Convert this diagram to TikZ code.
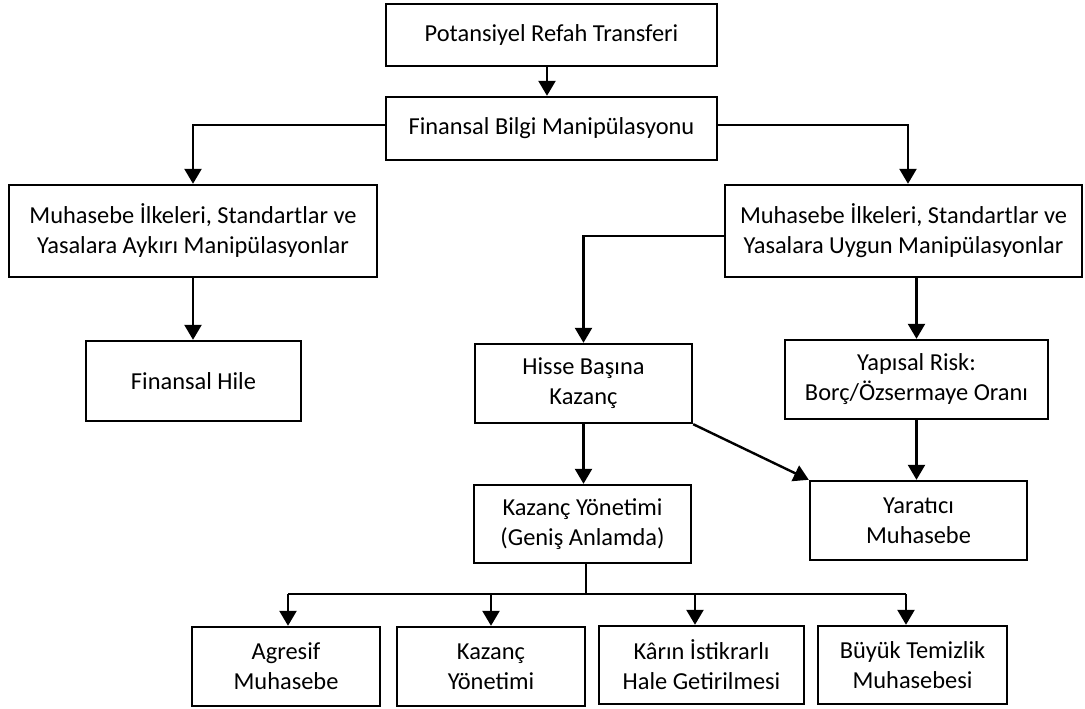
\documentclass[tikz,border=0pt]{standalone}
\usepackage{fontspec}
\setmainfont{Carlito}
\usetikzlibrary{arrows.meta,calc}
\tikzset{
  box/.style={draw, line width=2.4pt, align=center, inner sep=0pt, font=\fontsize{24.4}{30}\selectfont},
  arr/.style={line width=2.4pt, -{Triangle[width=17pt,length=15pt]}},
  ln/.style={line width=2.4pt}
}
\begin{document}
\begin{tikzpicture}[x=1pt,y=-1pt]
\useasboundingbox (0,0) rectangle (1085,709);
\node[box, minimum width=331pt, minimum height=62pt] (top) at (551.5,35) {Potansiyel Refah Transferi};
\node[box, minimum width=331pt, minimum height=63pt] (fbm) at (551.5,128.5) {Finansal Bilgi Manipülasyonu};
\node[box, minimum width=368pt, minimum height=92pt] (aykiri) at (193,231) {Muhasebe İlkeleri, Standartlar ve\\Yasalara Aykırı Manipülasyonlar};
\node[box, minimum width=357pt, minimum height=92pt] (uygun) at (903.5,231) {Muhasebe İlkeleri, Standartlar ve\\Yasalara Uygun Manipülasyonlar};
\node[box, minimum width=215pt, minimum height=80pt] (hile) at (193.5,381) {Finansal Hile};
\node[box, minimum width=217pt, minimum height=79pt] (hisse) at (583.5,383.5) {Hisse Başına\\Kazanç};
\node[box, minimum width=263pt, minimum height=79pt] (yapisal) at (916.5,379.5) {Yapısal Risk:\\Borç/Özsermaye Oranı};
\node[box, minimum width=217pt, minimum height=79pt] (yaratici) at (918.5,520.5) {Yaratıcı\\Muhasebe};
\node[box, minimum width=217pt, minimum height=78pt] (genis) at (582.5,524) {Kazanç Yönetimi\\(Geniş Anlamda)};
\node[box, minimum width=188pt, minimum height=79pt] (agresif) at (286,666.5) {Agresif\\Muhasebe};
\node[box, minimum width=188pt, minimum height=79pt] (kazanc) at (491,666.5) {Kazanç\\Yönetimi};
\node[box, minimum width=205pt, minimum height=78pt] (karin) at (701.5,665) {Kârın İstikrarlı\\Hale Getirilmesi};
\node[box, minimum width=189pt, minimum height=78pt] (buyuk) at (912.5,665) {Büyük Temizlik\\Muhasebesi};
\coordinate (bus) at (586,594);
\coordinate (busL) at (288,594);
\coordinate (busR) at (906,594);
\draw[arr] ([xshift=-4.5pt]top.south) -- ([xshift=-4.5pt]fbm.north);
\draw[arr] ([yshift=3.5pt]fbm.west) -| (aykiri.north);
\draw[arr] ([yshift=3.5pt]fbm.east) -| ([xshift=4.5pt]uygun.north);
\draw[arr] (aykiri.south) -- (aykiri.south |- hile.north);
\draw[arr] ([yshift=-5pt]uygun.west) -| (hisse.north);
\draw[arr] (yapisal.north |- uygun.south) -- (yapisal.north);
\draw[arr] (yapisal.south) -- (yapisal.south |- yaratici.north);
\draw[arr] (hisse.south east) -- (yaratici.north west);
\draw[arr] (hisse.south) -- (hisse.south |- genis.north);
\draw[ln] (bus |- genis.south) -- (bus);
\draw[ln] (busL) -- (busR);
\draw[arr] (busL) -- (busL |- agresif.north);
\draw[arr] (kazanc.north |- bus) -- (kazanc.north);
\draw[arr] ([xshift=-6.5pt]karin.north |- bus) -- ([xshift=-6.5pt]karin.north);
\draw[arr] (busR) -- (busR |- buyuk.north);
\end{tikzpicture}
\end{document}
